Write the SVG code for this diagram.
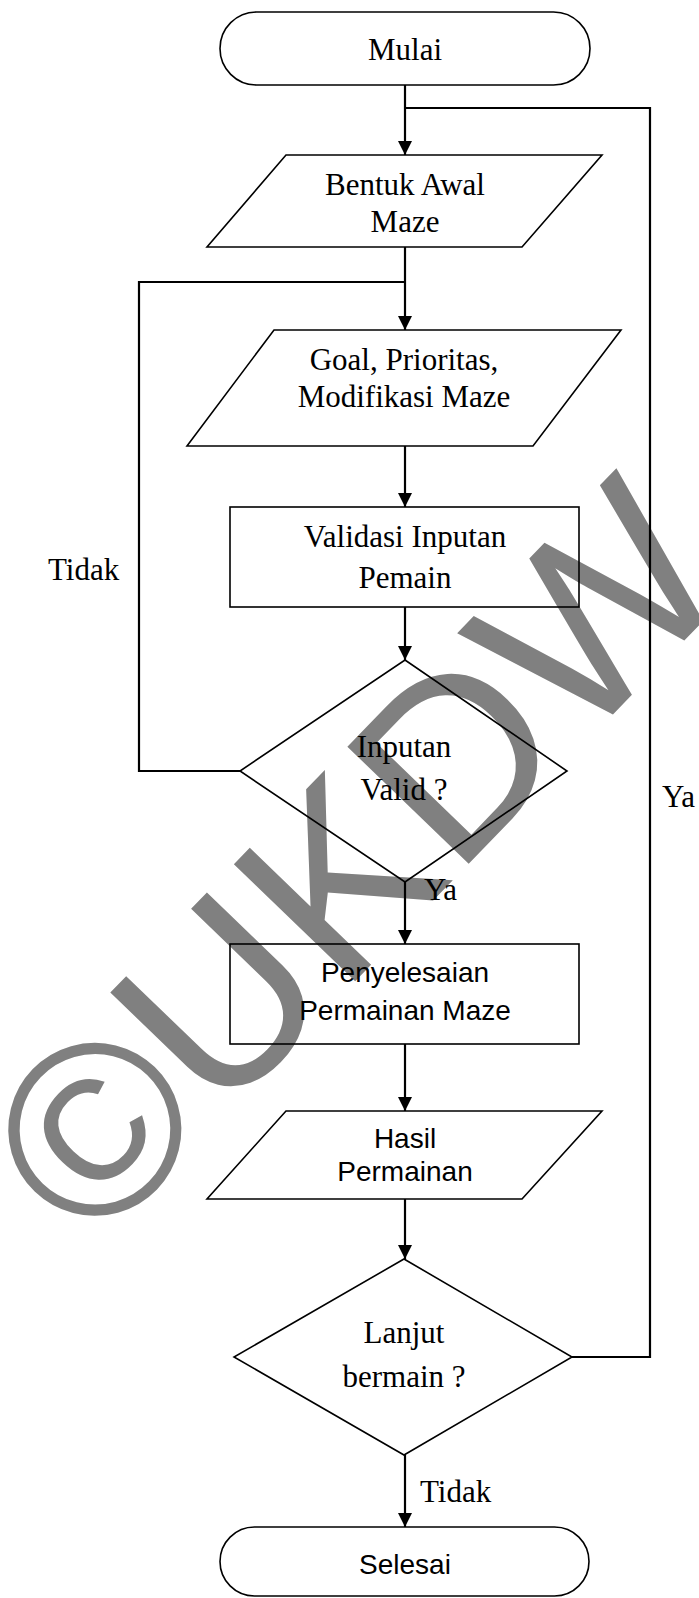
<svg xmlns="http://www.w3.org/2000/svg" width="699" height="1598" viewBox="0 0 699 1598">
<style>
.shape{fill:none;stroke:#000;stroke-width:1.6}
.conn{fill:none;stroke:#000;stroke-width:2.2}
.serif{font-family:"Liberation Serif","Times New Roman",serif;font-size:31px;fill:#000}
.sans{font-family:"Liberation Sans",Arial,sans-serif;font-size:28px;fill:#000}
.wm{font-family:"Liberation Sans",Arial,sans-serif;font-size:245px;fill:#808080}
</style>
<defs>
<marker id="arrow" markerUnits="userSpaceOnUse" markerWidth="15" markerHeight="15" refX="14" refY="7" orient="auto">
<path d="M0,0 L14,7 L0,14 z" fill="#000"/>
</marker>
</defs>
<rect x="0" y="0" width="699" height="1598" fill="#fff"/>
<g id="watermark">
<text class="wm" x="0" y="0" transform="translate(93,1253) rotate(-46)">©UKDW</text>
</g>
<g id="connectors">
<path class="conn" d="M405,85 L405,155" marker-end="url(#arrow)"/>
<path class="conn" d="M572,1357 L650,1357 L650,108 L405,108"/>
<path class="conn" d="M405,247 L405,330" marker-end="url(#arrow)"/>
<path class="conn" d="M240,771 L139,771 L139,282 L405,282"/>
<path class="conn" d="M405,446 L405,507" marker-end="url(#arrow)"/>
<path class="conn" d="M405,607 L405,660" marker-end="url(#arrow)"/>
<path class="conn" d="M405,882 L405,944" marker-end="url(#arrow)"/>
<path class="conn" d="M405,1044 L405,1111" marker-end="url(#arrow)"/>
<path class="conn" d="M405,1199 L405,1259" marker-end="url(#arrow)"/>
<path class="conn" d="M405,1455 L405,1527" marker-end="url(#arrow)"/>
<text class="serif" x="48" y="580">Tidak</text>
<text class="serif" x="662" y="807">Ya</text>
<text class="serif" x="424" y="900">Ya</text>
<text class="serif" x="420" y="1502">Tidak</text>
</g>
<g id="mulai">
<rect class="shape" x="220" y="12" width="370" height="73" rx="36.5" ry="36.5"/>
<text class="serif" x="405" y="60" text-anchor="middle">Mulai</text>
</g>
<g id="bentuk-awal">
<polygon class="shape" points="286,155 602,155 522,247 207,247"/>
<text class="serif" x="405" y="195" text-anchor="middle">Bentuk Awal</text>
<text class="serif" x="405" y="232" text-anchor="middle">Maze</text>
</g>
<g id="goal">
<polygon class="shape" points="274,330 621,330 533,446 187,446"/>
<text class="serif" x="404" y="370" text-anchor="middle">Goal, Prioritas,</text>
<text class="serif" x="404" y="407" text-anchor="middle">Modifikasi Maze</text>
</g>
<g id="validasi">
<rect class="shape" x="230" y="507" width="349" height="100"/>
<text class="serif" x="405" y="547" text-anchor="middle">Validasi Inputan</text>
<text class="serif" x="405" y="588" text-anchor="middle">Pemain</text>
</g>
<g id="inputan-valid">
<polygon class="shape" points="405,660 567,771 405,882 240,771"/>
<text class="serif" x="404" y="757" text-anchor="middle">Inputan</text>
<text class="serif" x="404" y="800" text-anchor="middle">Valid ?</text>
</g>
<g id="penyelesaian">
<rect class="shape" x="230" y="944" width="349" height="100"/>
<text class="sans" x="405" y="982" text-anchor="middle">Penyelesaian</text>
<text class="sans" x="405" y="1020" text-anchor="middle">Permainan Maze</text>
</g>
<g id="hasil">
<polygon class="shape" points="286,1111 602,1111 522,1199 207,1199"/>
<text class="sans" x="405" y="1148" text-anchor="middle">Hasil</text>
<text class="sans" x="405" y="1181" text-anchor="middle">Permainan</text>
</g>
<g id="lanjut">
<polygon class="shape" points="404,1259 572,1357 404,1455 234,1357"/>
<text class="serif" x="404" y="1343" text-anchor="middle">Lanjut</text>
<text class="serif" x="404" y="1387" text-anchor="middle">bermain ?</text>
</g>
<g id="selesai">
<rect class="shape" x="220" y="1527" width="369" height="69" rx="34.5" ry="34.5"/>
<text class="sans" x="405" y="1574" text-anchor="middle">Selesai</text>
</g>
</svg>
